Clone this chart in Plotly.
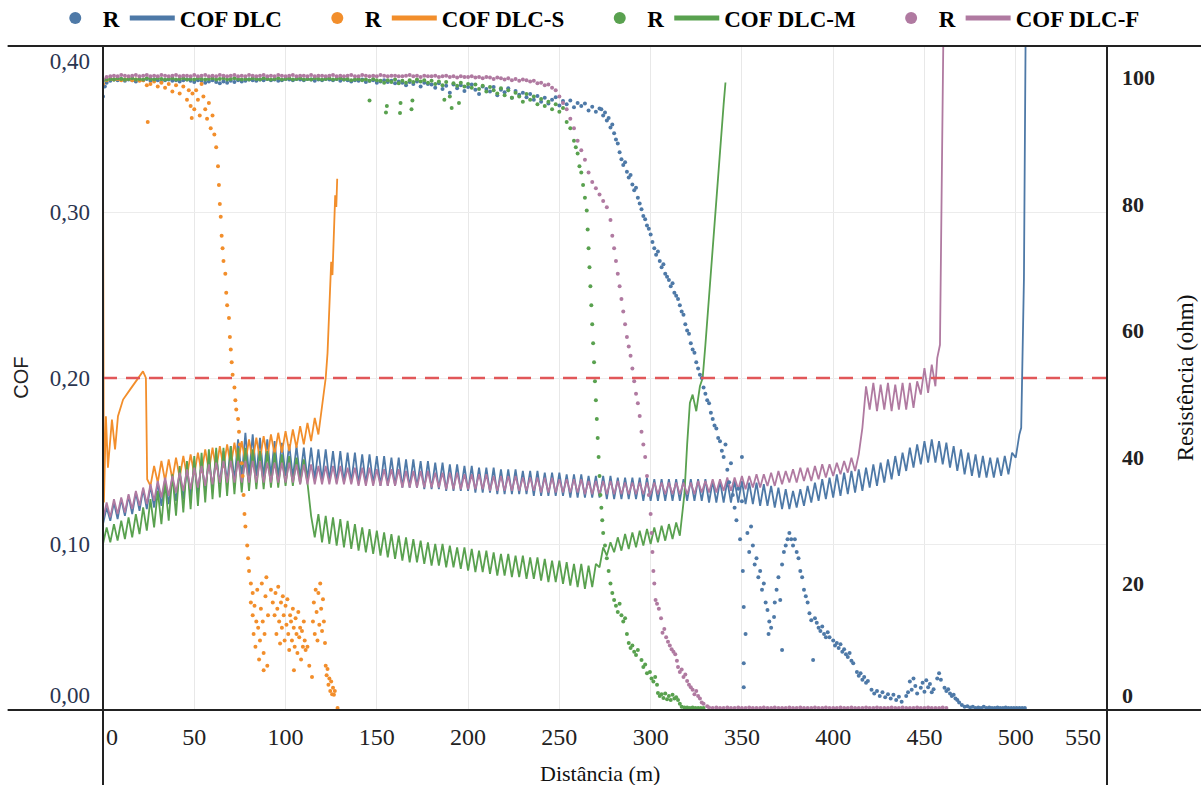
import plotly.graph_objects as go

# ---------------- COF (left axis) ----------------
# Oscillating friction traces sampled every 2 m, plus hand-read head/tail points
DLC_COF_DIST = list(range(0, 503, 2)) + [503.0, 504.5, 505.5]
DLC_COF = [
    0.112, 0.122, 0.114, 0.125, 0.115, 0.127, 0.117, 0.129, 0.118, 0.131,
    0.120, 0.133, 0.121, 0.135, 0.122, 0.137, 0.123, 0.139, 0.124, 0.140,
    0.126, 0.143, 0.127, 0.145, 0.129, 0.147, 0.131, 0.149, 0.132, 0.151,
    0.134, 0.153, 0.136, 0.156, 0.137, 0.159, 0.138, 0.163, 0.140, 0.167,
    0.141, 0.166, 0.141, 0.164, 0.140, 0.163, 0.141, 0.162, 0.140, 0.161,
    0.141, 0.160, 0.140, 0.159, 0.140, 0.158, 0.139, 0.158, 0.139, 0.157,
    0.138, 0.157, 0.138, 0.156, 0.137, 0.156, 0.137, 0.155, 0.137, 0.155,
    0.136, 0.154, 0.136, 0.154, 0.136, 0.153, 0.135, 0.153, 0.135, 0.152,
    0.135, 0.152, 0.134, 0.151, 0.134, 0.151, 0.134, 0.150, 0.133, 0.150,
    0.133, 0.149, 0.133, 0.149, 0.132, 0.148, 0.132, 0.148, 0.132, 0.147,
    0.132, 0.147, 0.131, 0.146, 0.131, 0.146, 0.131, 0.146, 0.130, 0.145,
    0.130, 0.145, 0.130, 0.145, 0.130, 0.144, 0.130, 0.144, 0.129, 0.144,
    0.129, 0.143, 0.129, 0.143, 0.129, 0.143, 0.129, 0.142, 0.128, 0.142,
    0.128, 0.142, 0.128, 0.141, 0.128, 0.141, 0.128, 0.141, 0.127, 0.141,
    0.127, 0.140, 0.127, 0.140, 0.127, 0.140, 0.127, 0.140, 0.126, 0.140,
    0.126, 0.139, 0.126, 0.139, 0.126, 0.139, 0.126, 0.139, 0.126, 0.139,
    0.126, 0.139, 0.126, 0.139, 0.126, 0.139, 0.125, 0.138, 0.125, 0.138,
    0.125, 0.138, 0.125, 0.138, 0.125, 0.138, 0.124, 0.137, 0.124, 0.137,
    0.123, 0.136, 0.123, 0.135, 0.122, 0.134, 0.121, 0.133, 0.121, 0.132,
    0.122, 0.133, 0.123, 0.135, 0.125, 0.137, 0.126, 0.139, 0.127, 0.140,
    0.128, 0.142, 0.129, 0.143, 0.130, 0.144, 0.131, 0.145, 0.132, 0.146,
    0.134, 0.148, 0.135, 0.149, 0.137, 0.151, 0.139, 0.153, 0.141, 0.155,
    0.144, 0.158, 0.146, 0.160, 0.148, 0.162, 0.149, 0.163, 0.149, 0.162,
    0.148, 0.161, 0.146, 0.159, 0.144, 0.157, 0.142, 0.155, 0.141, 0.154,
    0.140, 0.153, 0.140, 0.152, 0.140, 0.152, 0.141, 0.153, 0.142, 0.155,
    0.152, 0.166,
    0.170, 0.260, 0.420,
]

DLCS_HEAD = [(0, 0.330), (0.3, 0.200), (0.5, 0.125), (1.6, 0.177), (2.7, 0.146),
             (4.9, 0.175), (6.6, 0.157), (8.2, 0.177), (11.0, 0.187), (14.8, 0.193),
             (18.6, 0.199), (21.9, 0.204), (23.5, 0.200), (24.2, 0.139)]
DLCS_BAND_DIST = list(range(26, 121, 2))
DLCS_BAND = [
    0.135, 0.147, 0.137, 0.150, 0.138, 0.151, 0.139, 0.152, 0.140, 0.153,
    0.141, 0.154, 0.142, 0.155, 0.143, 0.157, 0.144, 0.158, 0.145, 0.159,
    0.146, 0.160, 0.147, 0.161, 0.148, 0.162, 0.149, 0.163, 0.150, 0.164,
    0.151, 0.165, 0.152, 0.166, 0.154, 0.167, 0.155, 0.168, 0.156, 0.169,
    0.158, 0.171, 0.160, 0.173, 0.162, 0.176, 0.166, 0.182,
]
DLCS_TAIL = [(121, 0.190), (122, 0.200), (123, 0.215), (124, 0.240), (125, 0.270),
             (125.7, 0.262), (126.5, 0.290), (127.2, 0.310), (127.8, 0.303), (128.3, 0.320)]

DLCM_BAND_DIST = list(range(0, 317, 2))
DLCM_BAND = [
    0.100, 0.110, 0.101, 0.112, 0.102, 0.114, 0.103, 0.116, 0.104, 0.118,
    0.106, 0.122, 0.108, 0.127, 0.110, 0.132, 0.112, 0.137, 0.114, 0.142,
    0.117, 0.147, 0.119, 0.150, 0.121, 0.153, 0.123, 0.155, 0.125, 0.157,
    0.127, 0.158, 0.128, 0.158, 0.129, 0.159, 0.130, 0.158, 0.131, 0.158,
    0.132, 0.157, 0.133, 0.156, 0.133, 0.156, 0.134, 0.155, 0.134, 0.154,
    0.135, 0.153, 0.135, 0.152, 0.136, 0.151, 0.137, 0.117, 0.104, 0.118,
    0.101, 0.117, 0.100, 0.116, 0.099, 0.115, 0.098, 0.114, 0.097, 0.112,
    0.096, 0.110, 0.095, 0.109, 0.094, 0.108, 0.093, 0.107, 0.092, 0.106,
    0.091, 0.105, 0.090, 0.104, 0.089, 0.103, 0.089, 0.102, 0.088, 0.101,
    0.087, 0.100, 0.087, 0.100, 0.086, 0.099, 0.086, 0.098, 0.085, 0.098,
    0.084, 0.097, 0.083, 0.096, 0.083, 0.096, 0.082, 0.095, 0.081, 0.094,
    0.081, 0.094, 0.080, 0.093, 0.080, 0.093, 0.079, 0.092, 0.079, 0.092,
    0.078, 0.091, 0.077, 0.090, 0.077, 0.090, 0.076, 0.089, 0.075, 0.088,
    0.074, 0.088, 0.073, 0.087, 0.074, 0.088, 0.086, 0.098, 0.093, 0.101,
    0.095, 0.104, 0.096, 0.106, 0.097, 0.107, 0.098, 0.108, 0.099, 0.109,
    0.100, 0.110, 0.101, 0.111, 0.102, 0.112, 0.103, 0.113, 0.105,
]
DLCM_TAIL = [(317, 0.115), (318.5, 0.130), (320, 0.160), (321.5, 0.185), (323, 0.190),
             (325, 0.180), (327, 0.195), (328.5, 0.200), (330, 0.220), (332, 0.250),
             (334, 0.280), (336, 0.310), (338, 0.340), (340, 0.365), (341, 0.378)]

DLCF_BAND_DIST = list(range(0, 457, 2))
DLCF_BAND = [
    0.115, 0.125, 0.116, 0.127, 0.118, 0.128, 0.119, 0.130, 0.121, 0.132,
    0.123, 0.134, 0.124, 0.136, 0.126, 0.138, 0.128, 0.140, 0.129, 0.141,
    0.131, 0.143, 0.132, 0.145, 0.133, 0.146, 0.134, 0.147, 0.135, 0.148,
    0.136, 0.149, 0.137, 0.150, 0.137, 0.150, 0.137, 0.150, 0.137, 0.150,
    0.137, 0.150, 0.137, 0.150, 0.137, 0.149, 0.137, 0.149, 0.137, 0.149,
    0.137, 0.149, 0.137, 0.148, 0.136, 0.148, 0.136, 0.148, 0.136, 0.147,
    0.136, 0.147, 0.136, 0.147, 0.136, 0.147, 0.136, 0.146, 0.136, 0.146,
    0.135, 0.146, 0.135, 0.146, 0.135, 0.145, 0.135, 0.145, 0.135, 0.145,
    0.135, 0.145, 0.134, 0.144, 0.134, 0.144, 0.134, 0.144, 0.134, 0.144,
    0.134, 0.143, 0.134, 0.143, 0.133, 0.143, 0.133, 0.143, 0.133, 0.142,
    0.133, 0.142, 0.133, 0.142, 0.133, 0.142, 0.132, 0.141, 0.132, 0.141,
    0.132, 0.141, 0.132, 0.141, 0.132, 0.140, 0.132, 0.140, 0.132, 0.140,
    0.131, 0.140, 0.131, 0.140, 0.131, 0.139, 0.131, 0.139, 0.131, 0.139,
    0.131, 0.139, 0.130, 0.138, 0.130, 0.138, 0.130, 0.138, 0.130, 0.138,
    0.130, 0.138, 0.130, 0.137, 0.130, 0.137, 0.130, 0.137, 0.130, 0.137,
    0.130, 0.137, 0.130, 0.137, 0.130, 0.137, 0.130, 0.137, 0.130, 0.137,
    0.130, 0.137, 0.130, 0.138, 0.131, 0.138, 0.131, 0.139, 0.131, 0.139,
    0.132, 0.140, 0.132, 0.140, 0.133, 0.141, 0.133, 0.141, 0.134, 0.142,
    0.134, 0.142, 0.135, 0.143, 0.135, 0.144, 0.136, 0.144, 0.137, 0.145,
    0.137, 0.146, 0.138, 0.146, 0.138, 0.147, 0.139, 0.148, 0.140, 0.148,
    0.141, 0.149, 0.142, 0.150, 0.143, 0.152, 0.144, 0.154, 0.170, 0.195,
    0.181, 0.197, 0.180, 0.196, 0.181, 0.197, 0.180, 0.196, 0.181, 0.197,
    0.181, 0.197, 0.182, 0.198, 0.190, 0.206, 0.191, 0.208, 0.195,
]
DLCF_TAIL = [(457, 0.212), (458.5, 0.220), (459.5, 0.300), (460.5, 0.420)]

# ---------------- Resistance R (right axis) ----------------
R_DLC_START = [(0, 97.0), (1, 98.6)]
R_DLC_FLAT1_DIST = list(range(2, 179, 2))
R_DLC_FLAT1 = [
    99.2, 99.5, 99.7, 99.6, 99.8, 99.5, 99.7, 99.6, 99.4, 99.7,
    99.6, 99.8, 99.5, 99.7, 99.6, 99.3, 99.6, 99.7, 99.5, 99.6,
    99.4, 99.6, 99.7, 99.5, 99.3, 99.6, 99.5, 99.2, 99.4, 99.6,
    99.3, 99.1, 99.4, 99.2, 99.5, 99.3, 99.6, 99.4, 99.5, 99.7,
    99.6, 99.5, 99.7, 99.6, 99.8, 99.6, 99.7, 99.5, 99.6, 99.8,
    99.7, 99.6, 99.8, 99.7, 99.6, 99.8, 99.7, 99.5, 99.7, 99.6,
    99.8, 99.7, 99.6, 99.8, 99.5, 99.7, 99.6, 99.4, 99.6, 99.5,
    99.7, 99.3, 99.5, 99.6, 99.2, 99.4, 99.6, 99.3, 99.5, 99.1,
    99.4, 99.2, 98.8, 99.3, 99.0, 99.4, 98.6, 99.2, 99.0,
]
R_DLC_FLAT2_DIST = list(range(180, 273, 2))
R_DLC_FLAT2 = [
    98.9, 98.4, 99.1, 98.2, 98.7, 97.6, 98.9, 98.3, 98.8, 97.9,
    98.5, 98.9, 98.1, 97.4, 98.6, 98.2, 97.8, 98.5, 97.2, 98.1,
    97.7, 98.3, 96.8, 97.9, 97.3,
    97.6, 96.9, 97.4, 96.5, 97.1, 96.2, 96.8, 95.9, 96.5, 96.9,
    95.6, 96.3, 95.8, 96.4, 95.3, 96.0, 95.5, 95.9, 94.8, 95.4,
    94.6, 95.1,
]
R_DLC_FALL = [
    (273, 95.0), (274, 94.0), (275, 94.5), (276, 93.2), (277, 93.6), (278, 92.1), (279, 92.6),
    (280, 91.2), (281, 90.2), (282, 89.6), (283, 88.2), (284, 87.1), (285, 86.2), (286, 86.6),
    (287, 85.1), (288, 84.2), (289, 84.6), (290, 83.1), (291, 82.2), (292, 82.6), (293, 81.0),
    (294, 80.1), (295, 79.2), (296, 78.1), (297, 77.6), (298, 76.6), (299, 76.1), (300, 75.2),
    (301, 74), (302, 73), (303, 72), (304, 72.5), (305, 71), (306, 70), (307, 70.5), (308, 69),
    (309, 68.5), (310, 68), (311, 67), (312, 67.5), (313, 66), (314, 65.5), (315, 65), (316, 64),
    (317, 63), (318, 62.5), (319, 61), (320, 60), (321, 59.5), (322, 58), (323, 57), (324, 56.5),
    (325, 55), (326, 54), (327, 53), (328, 52.5), (329, 51), (330, 50), (331, 49), (332, 48.5),
    (333, 47), (334, 46), (335, 45), (336, 44.5), (337, 43), (338, 42.5), (339, 41), (340, 40),
    (341, 42), (342, 38), (343, 36), (344, 39), (345, 34), (346, 32), (347, 30), (348, 35),
    (349, 27), (350, 40), (350, 33), (350.5, 22), (351, 16.3), (351, 7.4), (351, 3.6), (352, 12),
    (353, 28), (354, 25), (355, 29), (356, 26), (357, 23), (358, 24), (359, 21), (360, 22),
    (361, 19), (362, 20), (363, 17), (364, 15.8), (364.6, 12), (365, 14), (366, 13),
    (367.6, 14.7), (368, 17), (369, 19), (370, 21), (371, 17.4), (372, 23), (372, 9.5),
    (373, 25), (374, 26), (375, 27), (376, 28), (377, 27), (378, 26), (379, 27), (380, 25),
    (381, 24), (382, 22), (383, 21), (384, 19), (385, 18), (386, 17), (387, 15.3), (388, 14.2),
    (389, 7.9), (390, 14.5), (391, 13.8), (392, 13), (393, 12.5), (394, 13.2), (395, 12),
    (396, 11.5), (397, 12.3), (398, 11.5), (400, 11), (401, 10.2), (402, 10.6), (403, 9.8),
    (404, 10.4), (405, 9.2), (406, 9.6), (407, 8.8), (408, 8.4), (409, 9), (410, 7.8),
    (411, 7.4), (413, 6), (414, 5.4), (415, 5.8), (416, 4.8), (417, 5.2), (418, 4.3),
    (419, 4.6), (421, 3.2), (422.5, 2.6), (424, 3), (425.5, 2.2), (427, 2.8), (428.5, 2),
    (430, 2.5), (431.5, 1.8), (433, 2.4), (434.5, 1.6), (436, 2.1), (437.5, 1.3),
    (440, 2.2), (441, 2.8), (442, 4.5), (443, 3.2), (444, 5.0), (445, 3.8), (446, 2.6),
    (448, 3.5), (449, 4.3), (450, 2.9), (451, 4.7), (452, 3.6), (453, 4.1), (454, 2.8),
    (455, 3.3), (457, 5.0), (458, 5.8), (459, 4.8), (461, 3.5), (462, 3.0), (463, 3.3),
    (464, 2.6), (465, 2.2), (466, 2.4), (467, 1.8), (468, 1.6), (469, 1.2),
    (470.5, 0.8), (472, 0.5), (473.5, 0.6), (475, 0.4), (476.5, 0.5), (478, 0.3),
    (479.5, 0.4), (481, 0.3), (482.5, 0.5), (484, 0.3), (485.5, 0.4), (487, 0.3),
    (488.5, 0.3), (490, 0.4), (491.5, 0.3), (493, 0.3), (494.5, 0.4), (496, 0.3),
    (497.5, 0.3), (499, 0.3), (500.5, 0.3), (502, 0.3), (503.5, 0.3), (505, 0.3),
]

R_DLCS_FLAT_DIST = list(range(0, 23, 2))
R_DLCS_FLAT = [99.0, 99.6, 99.8, 99.7, 99.8, 99.6, 99.7, 99.8, 99.6, 99.7, 99.5, 99.6]
R_DLCS_FALL = [
    (24, 98.8), (24.5, 93.0), (26, 99.0), (28, 99.4), (30, 98.6), (32, 99.2), (34, 98.4),
    (36, 99.0), (38, 97.8), (40, 98.8), (42, 97.5), (44, 98.6), (46, 96.5), (47, 98.0),
    (48, 95.5), (48.6, 93.6), (49, 97.5), (50, 95.0), (51, 98.0), (52, 96.5), (53, 94.0),
    (54, 99.0), (55, 97.0), (56, 95.0), (57, 93.5), (58, 96.0), (59, 92.0), (60, 94.0),
    (61, 91.0), (62, 89.0), (63, 86), (63.5, 83), (64, 80), (64.5, 78), (65, 75), (65.5, 73),
    (66, 71), (67, 69), (67.5, 66), (68, 64), (69, 62), (69.5, 59), (70, 57), (70.5, 55),
    (71, 53), (72, 51), (72.5, 49), (73, 47.5), (74, 46), (74.5, 44), (75, 42), (76, 39),
    (76.5, 37), (77, 34), (77.5, 31), (78, 29), (79, 26), (79.5, 24), (80, 22), (81, 20),
    (82, 18.5), (81, 17), (82, 15), (82.5, 12), (83, 16.5), (83.5, 10), (84, 14), (84.5, 19),
    (85, 13), (85.5, 8), (86, 11), (86.5, 16), (87, 20), (87.5, 14), (88, 9), (88, 6.3),
    (88.5, 12), (89, 18), (89.5, 21), (90, 7), (90.4, 15), (92, 19), (93, 17), (94, 15),
    (94.5, 18.5), (95, 12), (95.5, 16), (96, 19.5), (96.5, 14), (97, 10.5), (97.5, 17),
    (98, 13), (98.5, 18), (99, 15), (99.5, 11), (100, 16.5), (100.5, 13.5), (101, 17.5),
    (101.5, 12), (102, 9.5), (102.5, 15), (103, 14), (103.5, 11), (104, 16), (104.5, 13),
    (104.6, 6.3), (105, 10), (105.5, 14.5), (106, 12), (106.5, 9), (107, 15.5), (107.5, 11.5),
    (108, 13), (108.5, 8), (109, 12.5), (109.5, 10), (110, 14), (110.5, 11), (111, 9.5),
    (112, 10), (113, 7), (114.5, 5.2), (115, 14), (115.5, 17), (116, 12), (116.5, 19),
    (117, 15.5), (117.5, 11), (118, 18.5), (118.5, 13.5), (119, 20), (119.5, 16), (120, 12.5),
    (120.5, 17.5), (121, 14), (121.6, 10.6), (122, 7), (122.5, 5.5), (123, 6.5), (123.5, 4),
    (124, 5), (124.5, 3), (125, 4.5), (125.5, 2.5), (126, 3.5), (126.5, 2.4), (127, 3),
    (128.5, 0.3),
]

R_DLCM_FLAT_DIST = list(range(0, 151, 2))
R_DLCM_FLAT = [
    99.5, 99.7, 99.8, 99.7, 99.9, 99.8, 99.7, 99.8, 99.9, 99.7,
    99.8, 99.7, 99.9, 99.8, 99.7, 99.9, 99.8, 99.7, 99.8, 99.9,
    99.7, 99.8, 99.9, 99.7, 99.8, 99.7, 99.9, 99.8, 99.7, 99.8,
    99.9, 99.7, 99.8, 99.9, 99.7, 99.8, 99.9, 99.8, 99.7, 99.8,
    99.7, 99.9, 99.8, 99.7, 99.9, 99.8, 99.7, 99.8, 99.9, 99.7,
    99.8, 99.9, 99.7, 99.8, 99.9, 99.7, 99.8, 99.7, 99.9, 99.8,
    99.7, 99.8, 99.9, 99.7, 99.8, 99.9, 99.7, 99.8, 99.6, 99.7,
    99.8, 99.6, 99.7, 99.5, 99.8, 99.6,
]
R_DLCM_FALL = [
    (146, 96.4), (152, 99.5), (154, 99.2), (155, 94.5), (155.5, 95.5), (156, 99.6), (158, 99.3),
    (160, 99.7), (162, 99.1), (162.7, 94.4), (163, 96.0), (164, 99.5), (166, 99.2), (168, 99.6),
    (169, 95.0), (169.5, 96.4), (170, 99.3), (172, 99.7), (174, 99.4), (176, 99.6), (178, 99.2),
    (180, 99.5), (182, 99.0), (184, 99.4), (186, 98.8), (187, 96.5), (188, 99.3), (190, 97.0),
    (191, 95.2), (192, 99.1), (194, 98.7), (195, 96.0), (196, 99.2), (198, 98.6), (200, 99.0),
    (202, 98.4), (204, 98.9), (206, 98.2), (208, 98.7), (210, 97.8), (212, 98.5), (214, 98.0),
    (216, 97.5), (218, 98.3), (220, 97.2), (222, 98.0), (224, 96.8), (226, 97.6), (228, 97.0),
    (230, 96.2), (232, 97.4), (234, 96.5), (236, 97.0), (238, 95.8), (240, 96.6), (242, 95.5),
    (244, 96.2), (246, 95.0), (248, 95.8), (250, 94.6), (252, 95.2), (254, 93), (256, 92),
    (258, 90), (259, 89), (260, 88), (261, 86), (262, 85), (263, 83), (264, 81), (265, 79),
    (265.5, 76), (266, 73), (266.5, 70), (267, 67), (267.5, 64), (268, 61), (268.5, 58),
    (269, 55), (269.5, 52), (270, 49), (270.5, 46), (271, 43), (271.5, 40), (272, 37),
    (272.5, 34), (273, 32), (273.5, 30), (274, 28), (275, 26), (276, 24), (277, 22), (278, 20),
    (279, 18.5), (280, 17.4), (281, 16.5), (282, 15.5), (283, 16.8), (284, 15), (285, 14),
    (286, 14.5), (287, 12), (288, 10.6), (289, 9.8), (290, 10.2), (291, 9.2), (292, 8.7),
    (293, 9.5), (295, 7.9), (296, 6.8), (297, 7.2), (298, 5.8), (299.6, 6), (300.5, 5),
    (301.5, 4.5), (302.5, 5.2), (303.5, 4), (304, 2.7), (305, 2.2), (306, 2.5), (307, 1.9),
    (308, 2.6), (309, 1.7), (310, 2.2), (311, 1.6), (312, 2.4), (313, 1.8), (314, 2.0),
    (315, 1.6), (316, 1.0), (317, 0.5), (318.5, 0.4), (320, 0.4), (321.5, 0.3), (323, 0.4),
    (324.5, 0.3), (326, 0.3), (327.5, 0.3), (329, 0.3),
]

R_DLCF_FLAT_DIST = list(range(0, 231, 2))
R_DLCF_FLAT = [
    99.8, 100.1, 100.2, 100.3, 100.2, 100.4, 100.3, 100.2, 100.3, 100.4,
    100.2, 100.3, 100.4, 100.2, 100.3, 100.2, 100.4, 100.3, 100.2, 100.3,
    100.4, 100.2, 100.3, 100.3, 100.2, 100.4, 100.2, 100.3, 100.4, 100.2,
    100.3, 100.2, 100.4, 100.3, 100.2, 100.3, 100.4, 100.2, 100.3, 100.2,
    100.4, 100.3, 100.2, 100.3, 100.4, 100.2, 100.3, 100.2, 100.4, 100.3,
    100.2, 100.3, 100.4, 100.2, 100.3, 100.3, 100.2, 100.4, 100.2, 100.3,
    100.3, 100.2, 100.3, 100.4, 100.2, 100.3, 100.2, 100.3, 100.4, 100.2,
    100.2, 100.4, 100.3, 100.2, 100.3, 100.2, 100.4, 100.3, 100.2, 100.3,
    100.3, 100.2, 100.2, 100.3, 100.4, 100.2, 100.3, 100.1, 100.3, 100.2,
    100.2, 100.3, 100.1, 100.2, 100.3, 100.1, 100.2, 100.0, 100.2, 100.1,
    100.1, 100.2, 100.0, 100.1, 99.9, 100.1, 100.0, 99.8, 100.0, 99.9,
    99.7, 99.9, 99.6, 99.8, 99.5, 99.7,
]
R_DLCF_FALL = [
    (232, 99.6), (234, 99.4), (236, 99.5), (238, 99.1), (240, 99.2), (242, 98.8), (244, 98.9),
    (246, 98.4), (248, 98.0), (250, 97.0), (252, 96.0), (254, 95.0), (256, 93.5), (258, 92.0),
    (260, 90.0), (262, 88.5), (264, 87.0), (266, 85.0), (268, 83.5), (270, 82.5), (272, 81.5),
    (274, 80.5), (276, 79.5), (278, 77.5), (279, 75), (280, 73), (281, 71), (282, 69), (283, 67),
    (284, 65), (285, 63), (286, 61), (287, 59), (288, 57.5), (289, 56), (290, 54), (291, 52),
    (292, 50), (293, 48.5), (294, 46.5), (295, 44), (296, 42), (297, 40), (298, 37), (299, 34),
    (300, 31), (300.5, 28), (301, 25), (301.5, 22), (302, 20), (302.7, 17.4), (303.5, 16.8),
    (304.5, 16), (305.7, 14.5), (306.5, 12.2), (307.5, 12.8), (308.5, 11.5), (309.5, 10.8),
    (310.5, 10.2), (311.5, 9.6), (312.5, 9.2), (313.5, 8.8), (314.4, 7.8), (315, 6.8),
    (316, 6.0), (317, 6.4), (318, 5.2), (319, 5.6), (320, 4.6), (321, 4.0), (322, 3.6),
    (323, 3.2), (324, 2.5), (325, 3.0), (326, 2.2), (327, 1.8), (328, 1.2), (329, 1.0),
    (331, 0.6),
]
R_DLCF_ZERO_DIST = list(range(332, 463, 2))
R_DLCF_ZERO = [
    0.4, 0.3, 0.4, 0.3, 0.3, 0.4, 0.3, 0.3, 0.4, 0.3,
    0.3, 0.4, 0.3, 0.3, 0.3, 0.4, 0.3, 0.3, 0.4, 0.3,
    0.3, 0.3, 0.4, 0.3, 0.3, 0.4, 0.3, 0.3, 0.3, 0.4,
    0.3, 0.3, 0.4, 0.3, 0.3, 0.3, 0.4, 0.3, 0.3, 0.4,
    0.3, 0.3, 0.3, 0.4, 0.3, 0.3, 0.4, 0.3, 0.3, 0.3,
    0.4, 0.3, 0.3, 0.4, 0.3, 0.3, 0.3, 0.4, 0.3, 0.3,
    0.4, 0.3, 0.3, 0.3, 0.4, 0.3,
]

COF_THRESHOLD = 0.20
NB = "\u00a0"
X_TICKS = [0, 50, 100, 150, 200, 250, 300, 350, 400, 450, 500, 550]
X_TICK_TEXT = [NB * 3 + "0", "50", "100", "150", "200", "250", "300", "350", "400", "450",
               "500", "550" + NB * 8]
COF_TICKS = [0.0, 0.1, 0.2, 0.3, 0.4]
COF_TICK_TEXT = ["0,00<br>" + NB, "0,10", "0,20", "0,30", NB + "<br>0,40"]
R_TICKS = [0, 20, 40, 60, 80, 100]
R_TICK_TEXT = ["0<br>" + NB, "20", "40", "60", "80", "100"]

BLUE, ORANGE, GREEN, PURPLE, RED = "#4E79A7", "#F28E2B", "#59A14F", "#B07AA1", "#E15759"


def xs(pairs):
    return [p[0] for p in pairs]


def ys(pairs):
    return [p[1] for p in pairs]


series = [
    ("COF DLC", BLUE,
     DLC_COF_DIST, DLC_COF,
     [0, 1] + R_DLC_FLAT1_DIST + R_DLC_FLAT2_DIST + xs(R_DLC_FALL),
     ys(R_DLC_START) + R_DLC_FLAT1 + R_DLC_FLAT2 + ys(R_DLC_FALL)),
    ("COF DLC-S", ORANGE,
     xs(DLCS_HEAD) + DLCS_BAND_DIST + xs(DLCS_TAIL),
     ys(DLCS_HEAD) + DLCS_BAND + ys(DLCS_TAIL),
     R_DLCS_FLAT_DIST + xs(R_DLCS_FALL), R_DLCS_FLAT + ys(R_DLCS_FALL)),
    ("COF DLC-M", GREEN,
     DLCM_BAND_DIST + xs(DLCM_TAIL), DLCM_BAND + ys(DLCM_TAIL),
     R_DLCM_FLAT_DIST + xs(R_DLCM_FALL), R_DLCM_FLAT + ys(R_DLCM_FALL)),
    ("COF DLC-F", PURPLE,
     DLCF_BAND_DIST + xs(DLCF_TAIL), DLCF_BAND + ys(DLCF_TAIL),
     R_DLCF_FLAT_DIST + xs(R_DLCF_FALL) + R_DLCF_ZERO_DIST,
     R_DLCF_FLAT + ys(R_DLCF_FALL) + R_DLCF_ZERO),
]

LEGEND_PAD = [NB * 4, NB * 4, NB * 4, ""]

fig = go.Figure()
for (name, color, cx, cy, rx, ry), pad in zip(series, LEGEND_PAD):
    fig.add_trace(go.Scatter(x=rx, y=ry, mode="markers", name="R", yaxis="y2",
                             marker=dict(color=color, size=4)))
    fig.add_trace(go.Scatter(x=cx, y=cy, mode="lines", name=name + pad, yaxis="y",
                             line=dict(color=color, width=1.8)))

SERIF = "Liberation Serif, Times New Roman, Times, serif"
SANS = "Liberation Sans, Arial, sans-serif"
fig.update_layout(
    width=1201, height=785, autosize=False,
    margin=dict(l=103, r=94, t=46, b=75, autoexpand=False),
    paper_bgcolor="white", plot_bgcolor="white",
    showlegend=True,
    legend=dict(orientation="h", x=-0.055, xanchor="left", y=1.042, yanchor="middle",
                font=dict(family=SERIF, size=23, color="#000", weight="bold"),
                itemsizing="constant", bgcolor="rgba(0,0,0,0)", itemwidth=45),
    xaxis=dict(range=[0, 550], tickvals=X_TICKS, ticktext=X_TICK_TEXT, showgrid=True,
               gridcolor="#e8e8e8", zeroline=False, showline=False, ticks="",
               tickfont=dict(family=SERIF, size=24, color="#222"), ticklabelstandoff=10),
    yaxis=dict(range=[0, 0.4], tickvals=COF_TICKS, ticktext=COF_TICK_TEXT, showgrid=True,
               gridcolor="#ececec", zeroline=False, showline=False, ticks="",
               tickfont=dict(family=SERIF, size=23, color="#2a3550"), ticklabelstandoff=12),
    yaxis2=dict(range=[0, 105], tickvals=R_TICKS, ticktext=R_TICK_TEXT, overlaying="y",
                side="right", showgrid=False, zeroline=False, showline=False, ticks="",
                tickfont=dict(family=SERIF, size=22, color="#222", weight="bold"),
                ticklabelstandoff=14),
    shapes=[
        dict(type="line", xref="paper", yref="y", x0=0, x1=1, y0=COF_THRESHOLD, y1=COF_THRESHOLD,
             line=dict(color=RED, width=2.5, dash="14px,9px"), layer="above"),
        dict(type="line", xref="paper", yref="paper", x0=-0.095, x1=1.094, y0=1, y1=1,
             line=dict(color="#222", width=2)),
        dict(type="line", xref="paper", yref="paper", x0=-0.095, x1=1.094, y0=0, y1=0,
             line=dict(color="#222", width=2)),
        dict(type="line", xref="paper", yref="paper", x0=0, x1=0, y0=1, y1=-0.113,
             line=dict(color="#222", width=2)),
        dict(type="line", xref="paper", yref="paper", x0=1, x1=1, y0=1, y1=-0.113,
             line=dict(color="#222", width=2)),
    ],
    annotations=[
        dict(text="COF", xref="paper", yref="paper", x=-0.082, y=0.5, showarrow=False,
             xanchor="center", yanchor="middle", textangle=-90,
             font=dict(family=SANS, size=20, color="#222")),
        dict(text="Distância (m)", xref="paper", yref="paper", x=0.495, y=-0.095,
             xanchor="center", yanchor="middle", showarrow=False,
             font=dict(family=SERIF, size=22, color="#111")),
        dict(text="Resistência (ohm)", xref="paper", yref="paper", x=1.078, y=0.5,
             xanchor="center", yanchor="middle", showarrow=False, textangle=-90,
             font=dict(family=SERIF, size=23, color="#111")),
    ],
)

fig.write_html("out.html")
